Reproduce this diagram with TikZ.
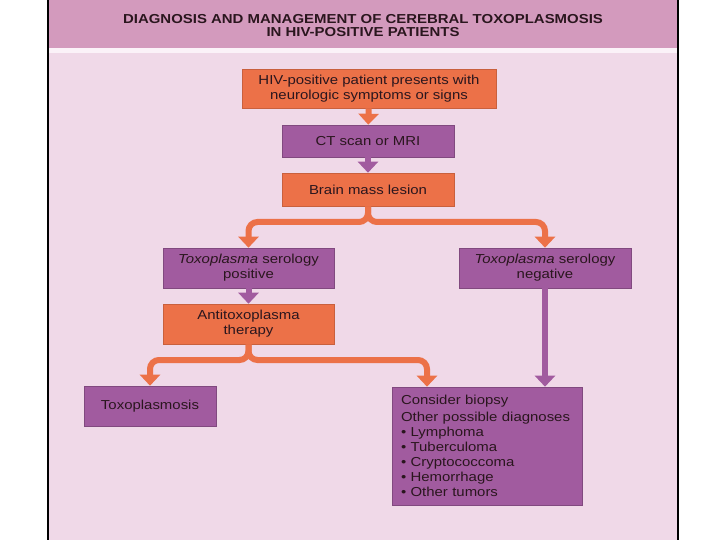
\documentclass[tikz,border=0pt]{standalone}
\usepackage{fontspec}
\setmainfont[FakeStretch=1.15]{Liberation Sans}
\usepackage{tikz}
\usetikzlibrary{arrows.meta}
\definecolor{customorange}{HTML}{EC7148}
\definecolor{custompurple}{HTML}{A15B9F}
\definecolor{headerpink}{HTML}{D39ABD}
\definecolor{panelpink}{HTML}{F0D9E8}
\definecolor{strippink}{HTML}{FBF2F8}
\definecolor{boxtext}{HTML}{2A161E}

\tikzset{
    box/.style={rectangle, inner sep=0pt, align=center, text=boxtext, font=\fontsize{13}{15}\selectfont},
    obox/.style={box, fill=customorange, draw=customorange!85!black, line width=0.6pt},
    pbox/.style={box, fill=custompurple, draw=custompurple!80!black, line width=0.6pt},
    oflow/.style={line width=6pt, customorange, rounded corners=9pt, -{Triangle[width=20pt, length=11pt]}},
    pflow/.style={line width=6pt, custompurple, -{Triangle[width=20pt, length=11pt]}}
}

\begin{document}
\begin{tikzpicture}[x=1pt, y=-1pt]
    \useasboundingbox (0,0) rectangle (720,540);
    \fill[white] (0,0) rectangle (720,540);
    \fill[panelpink] (48,0) rectangle (678,540);
    \fill[headerpink] (48,0) rectangle (678,48);
    \fill[strippink] (48,48) rectangle (678,53);
    \draw[line width=1.2pt] (48,0) -- (48,540);
    \draw[line width=1.2pt] (678,0) -- (678,540);

    \node[align=center, text=boxtext, font=\bfseries\fontsize{13}{13}\selectfont] (title) at (363,26)
        {DIAGNOSIS AND MANAGEMENT OF CEREBRAL TOXOPLASMOSIS\\IN HIV-POSITIVE PATIENTS};

    \node[obox, minimum width=254, minimum height=39] (hiv) at (369,88.5)
        {HIV-positive patient presents with\\neurologic symptoms or signs};
    \node[pbox, minimum width=172, minimum height=32] (ct) at (368,141) {CT scan or MRI};
    \node[obox, minimum width=172, minimum height=33] (brain) at (368,189.5) {Brain mass lesion};
    \node[pbox, minimum width=171, minimum height=40] (pos) at (248.5,268)
        {\textit{Toxoplasma} serology\\positive};
    \node[pbox, minimum width=172, minimum height=40] (neg) at (545,268)
        {\textit{Toxoplasma} serology\\negative};
    \node[obox, minimum width=171, minimum height=40] (anti) at (248.5,324)
        {Antitoxoplasma\\therapy};
    \node[pbox, minimum width=132, minimum height=40] (toxo) at (150,406) {Toxoplasmosis};
    \node[pbox, align=left, text width=172, inner xsep=9pt, minimum width=190, minimum height=118] (biopsy) at (487,446)
        {Consider biopsy\\[2pt]Other possible diagnoses\\
        • Lymphoma\\• Tuberculoma\\• Cryptococcoma\\• Hemorrhage\\• Other tumors};

    \coordinate (split1) at (368,222);
    \coordinate (split2) at (248.5,360);

    \draw[oflow] (hiv) -- (ct);
    \draw[pflow] (ct) -- (brain);
    \draw[oflow] (brain) -- (split1) -| (pos);
    \draw[oflow] (brain) -- (split1) -| (neg);
    \draw[pflow] (pos) -- (anti);
    \draw[oflow] (anti) -- (split2) -| (toxo);
    \draw[oflow] (anti) -- (split2) -| ([xshift=-60pt]biopsy.north);
    \draw[pflow] (neg) -- (neg |- biopsy.north);
\end{tikzpicture}
\end{document}
